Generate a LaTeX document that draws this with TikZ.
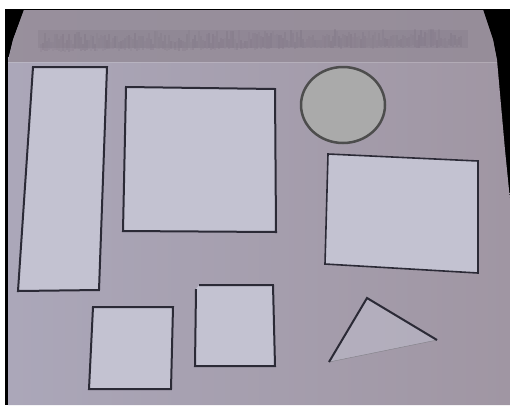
\documentclass[tikz,border=0pt]{standalone}
\usetikzlibrary{calc}
\definecolor{paperTop}{HTML}{958C98}
\definecolor{paperA}{HTML}{ABA7B9}
\definecolor{paperB}{HTML}{A096A3}
\definecolor{shapeFill}{HTML}{C3C2D1}
\definecolor{ink}{HTML}{2B2A36}
\definecolor{circFill}{HTML}{AAAAAA}
\definecolor{circLine}{HTML}{4D4D4D}
\definecolor{bleed}{HTML}{74697A}
\tikzset{
  outline/.style={draw=ink, line width=2pt, fill=shapeFill, line join=miter},
}
\begin{document}
\begin{tikzpicture}[x=1pt,y=-1pt]
\useasboundingbox (0,0) rectangle (510,405);
\fill[white] (0,0) rectangle (510,405);
\fill[black] (5,9) rectangle (510,405);
% paper
\path[left color=paperA, right color=paperB]
  (24,10) -- (483,10) -- (493,40) -- (497,60) -- (505,150) -- (510,200)
  -- (510,405) -- (8,405) -- (8,60) -- (13,40) -- cycle;
% upper flap (above fold), darker
\fill[paperTop, opacity=0.85]
  (24,10) -- (483,10) -- (493,40) -- (497,62) -- (8,62) -- (13,40) -- cycle;
\draw[white, opacity=0.2, line width=1pt] (8,62) -- (497,62);
% bleed-through print (illegible, blurred)
\fill[bleed, opacity=0.18] (38,30) rectangle (468,48);
\pgfmathsetseed{7}
\foreach \i in {0,...,210}{
  \pgfmathsetmacro{\xx}{40+\i*2}
  \pgfmathsetmacro{\yy}{49-\i*0.02+rnd*3}
  \pgfmathsetmacro{\hh}{6+rnd*12}
  \pgfmathsetmacro{\oo}{0.08+rnd*0.18}
  \fill[bleed, opacity=\oo] (\xx,\yy) rectangle ++(1.8,-\hh);
}
% tall rectangle
\draw[outline] (33,67) coordinate (t1) -- (107,67) coordinate (t2)
  -- (99,290) coordinate (t3) -- (18,291) coordinate (t4) -- cycle;
% big square
\draw[outline] (126,87) coordinate (s1) -- (275,89) coordinate (s2)
  -- (276,232) coordinate (s3) -- (123,231) coordinate (s4) -- cycle;
% circle
\draw[draw=circLine, fill=circFill, line width=2.5pt] (343,105) coordinate (c)
  ellipse [x radius=42, y radius=38];
% right rectangle
\draw[draw=ink, line width=1.6pt, fill=shapeFill] (328,154) coordinate (r1)
  -- (478,161) coordinate (r2) -- (478,273) coordinate (r3)
  -- (325,264) coordinate (r4) -- cycle;
% bottom square 1
\draw[outline] (93,307) coordinate (b1) -- (173,307) coordinate (b2)
  -- (171,389) coordinate (b3) -- (89,389) coordinate (b4) -- cycle;
% bottom square 2
\draw[outline] (199,285) coordinate (q1) -- (273,285) coordinate (q2)
  -- (275,366) coordinate (q3) -- (195,366) coordinate (q4) -- (196,289);
% triangle
\fill[shapeFill, opacity=0.5] (329,362) coordinate (g1) -- (367,298) coordinate (g2)
  -- (437,340) coordinate (g3) -- cycle;
\draw[ink!60, line width=0.4pt] (g3) -- (g1);
\draw[ink, line width=2pt, line join=miter] (g1) -- (g2) -- (g3);
\end{tikzpicture}
\end{document}
